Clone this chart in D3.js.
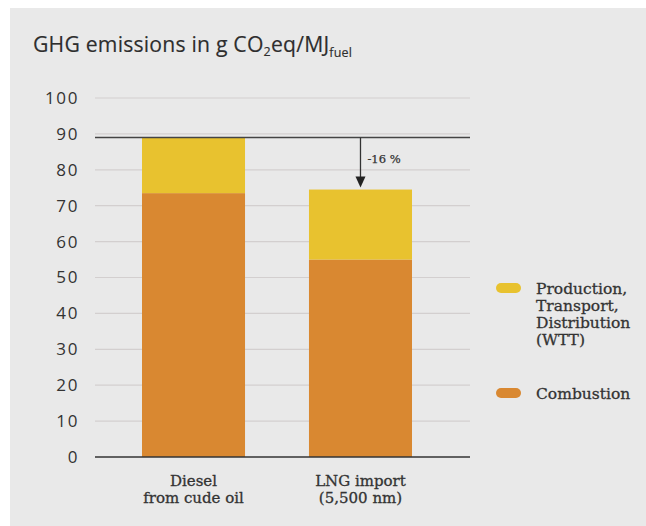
<!DOCTYPE html>
<html><head><meta charset="utf-8">
<script src="https://cdn.jsdelivr.net/npm/d3@7"></script>
<style>body{margin:0;background:#fff;}svg{display:block;}</style>
</head><body>
<svg id="c" width="646" height="526"></svg>
<script>
const categories = [["Diesel","from cude oil"],["LNG import","(5,500 nm)"]];
const combustion = [73.5, 55.0];
const wtt = [15.5, 19.5];
const yTicks = [0,10,20,30,40,50,60,70,80,90,100];
const seriesNames = [["Production,","Transport,","Distribution","(WTT)"],["Combustion"]];
const colors = ["#e8c22f","#d98831"];
const reductionLabel = "-16 %";

const svg = d3.select("#c");
svg.append("rect").attr("x",10).attr("y",8).attr("width",636).attr("height",518).attr("fill","#e9e9e9");

const y = d3.scaleLinear().domain([0,100]).range([457,98]);
const x = d3.scaleBand().domain([0,1]).range([108.6,445.4]).paddingInner(0.383).paddingOuter(0.2);

const serif = "'DejaVu Serif', serif";
const sans = "'Open Sans', 'Noto Sans', sans-serif";

// title
const t = svg.append("text").attr("x",33).attr("y",52).attr("font-family",sans).attr("font-size",21.2).attr("fill","#2e2e2e").attr("letter-spacing",0.2).attr("stroke","#2e2e2e").attr("stroke-width",0.15);
t.append("tspan").text("GHG emissions in g CO");
t.append("tspan").attr("font-size",12.5).attr("dy",4).text("2");
t.append("tspan").attr("dy",-4).text("eq/MJ");
t.append("tspan").attr("font-size",12.5).attr("dy",5).text("fuel");

// grid
svg.append("g").selectAll("line").data(yTicks.filter(d=>d>0)).join("line")
  .attr("x1",95).attr("x2",470).attr("y1",d=>y(d)).attr("y2",d=>y(d))
  .attr("stroke","#d3cfcf").attr("stroke-width",1.2);

// y axis
const ya = svg.append("g").attr("transform","translate(79,0)")
  .call(d3.axisLeft(y).tickValues(yTicks).tickSize(0).tickPadding(0));
ya.select(".domain").remove();
ya.selectAll("text").attr("font-family",sans).attr("font-size",17).attr("letter-spacing",1.6).attr("fill","#333");

// bars
const stacked = categories.map((c,i)=>({i, comb:combustion[i], wtt:wtt[i]}));
const g = svg.append("g");
g.selectAll(".comb").data(stacked).join("rect")
  .attr("x",d=>x(d.i)).attr("width",x.bandwidth())
  .attr("y",d=>y(d.comb)).attr("height",d=>y(0)-y(d.comb)).attr("fill",colors[1]);
g.selectAll(".wtt").data(stacked).join("rect")
  .attr("x",d=>x(d.i)).attr("width",x.bandwidth())
  .attr("y",d=>y(d.comb+d.wtt)).attr("height",d=>y(d.comb)-y(d.comb+d.wtt)).attr("fill",colors[0]);

// baseline
svg.append("line").attr("x1",95).attr("x2",470).attr("y1",y(0)).attr("y2",y(0)).attr("stroke","#333").attr("stroke-width",1.6);

// reference line
const ref = combustion[0]+wtt[0];
const lng = combustion[1]+wtt[1];
svg.append("line").attr("x1",95).attr("x2",470).attr("y1",y(ref)).attr("y2",y(ref)).attr("stroke","#444").attr("stroke-width",1.6);
const ax = x(1)+x.bandwidth()/2;
svg.append("line").attr("x1",ax).attr("x2",ax).attr("y1",y(ref)).attr("y2",y(lng)-10).attr("stroke","#333").attr("stroke-width",1.3);
svg.append("path").attr("d",`M${ax-5},${y(lng)-13}L${ax+5},${y(lng)-13}L${ax},${y(lng)-2}Z`).attr("fill","#222");
svg.append("text").attr("x",ax+7).attr("y",y(ref)+26).attr("font-family",serif).attr("font-size",11.5).attr("fill","#333").attr("stroke","#333").attr("stroke-width",0.25).text(reductionLabel);

// x labels
svg.append("g").selectAll("text").data(categories).join("text")
  .attr("x",(d,i)=>x(i)+x.bandwidth()/2).attr("y",486)
  .attr("text-anchor","middle").attr("font-family",serif).attr("font-size",15).attr("fill","#333").attr("stroke","#333").attr("stroke-width",0.3)
  .each(function(d){
    const s=d3.select(this);
    d.forEach((l,k)=>s.append("tspan").attr("x",s.attr("x")).attr("dy",k?17:0).text(l));
  });

// legend
const legY = [288, 393];
const lg = svg.append("g");
seriesNames.forEach((lines,i)=>{
  lg.append("rect").attr("x",496).attr("y",legY[i]-5).attr("width",25).attr("height",10).attr("rx",5).attr("fill",colors[i]);
  const tx = lg.append("text").attr("x",536).attr("y",legY[i]+5.5).attr("font-family",serif).attr("font-size",15.5).attr("fill","#333").attr("stroke","#333").attr("stroke-width",0.3);
  lines.forEach((l,k)=>tx.append("tspan").attr("x",536).attr("dy",k?17:0).text(l));
});
</script>
</body></html>
